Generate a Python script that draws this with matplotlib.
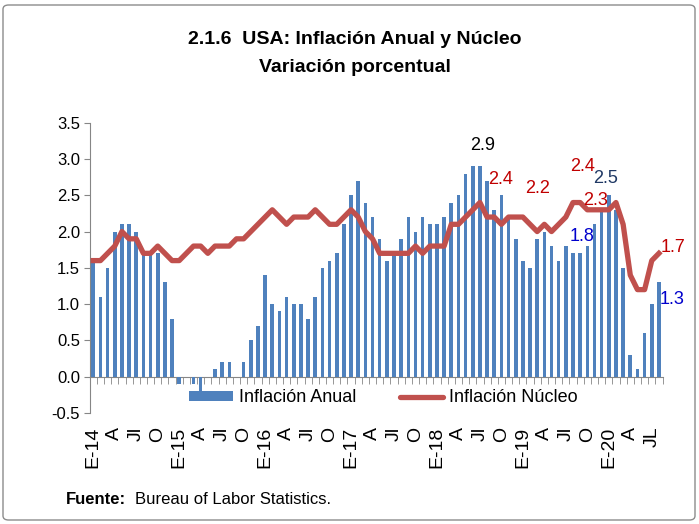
import matplotlib
matplotlib.use("Agg")
import matplotlib.pyplot as plt
from matplotlib.patches import FancyBboxPatch, Patch
from matplotlib.lines import Line2D
import numpy as np

plt.rcParams['font.family'] = ['Liberation Sans', 'DejaVu Sans']

# Monthly data, Jan 2014 - Aug 2020
inflacion_anual = [
    1.6, 1.1, 1.5, 2.0, 2.1, 2.1, 2.0, 1.7, 1.7, 1.7, 1.3, 0.8,      # 2014
    -0.1, 0.0, -0.1, -0.2, 0.0, 0.1, 0.2, 0.2, 0.0, 0.2, 0.5, 0.7,   # 2015
    1.4, 1.0, 0.9, 1.1, 1.0, 1.0, 0.8, 1.1, 1.5, 1.6, 1.7, 2.1,      # 2016
    2.5, 2.7, 2.4, 2.2, 1.9, 1.6, 1.7, 1.9, 2.2, 2.0, 2.2, 2.1,      # 2017
    2.1, 2.2, 2.4, 2.5, 2.8, 2.9, 2.9, 2.7, 2.3, 2.5, 2.2, 1.9,      # 2018
    1.6, 1.5, 1.9, 2.0, 1.8, 1.6, 1.8, 1.7, 1.7, 1.8, 2.1, 2.3,      # 2019
    2.5, 2.3, 1.5, 0.3, 0.1, 0.6, 1.0, 1.3,                          # 2020
]
inflacion_nucleo = [
    1.6, 1.6, 1.7, 1.8, 2.0, 1.9, 1.9, 1.7, 1.7, 1.8, 1.7, 1.6,
    1.6, 1.7, 1.8, 1.8, 1.7, 1.8, 1.8, 1.8, 1.9, 1.9, 2.0, 2.1,
    2.2, 2.3, 2.2, 2.1, 2.2, 2.2, 2.2, 2.3, 2.2, 2.1, 2.1, 2.2,
    2.3, 2.2, 2.0, 1.9, 1.7, 1.7, 1.7, 1.7, 1.7, 1.8, 1.7, 1.8,
    1.8, 1.8, 2.1, 2.1, 2.2, 2.3, 2.4, 2.2, 2.2, 2.1, 2.2, 2.2,
    2.2, 2.1, 2.0, 2.1, 2.0, 2.1, 2.2, 2.4, 2.4, 2.3, 2.3, 2.3,
    2.3, 2.4, 2.1, 1.4, 1.2, 1.2, 1.6, 1.7,
]
year_labels = ['E-14', 'E-15', 'E-16', 'E-17', 'E-18', 'E-19', 'E-20']
quarter_labels = ['A', 'Jl', 'O']
last_label = 'JL'

# annotation texts (value, colour)
annotations = [
    ('2.9', 'black'), ('2.4', '#C00000'), ('2.2', '#C00000'),
    ('2.4', '#C00000'), ('2.5', '#1F3864'), ('2.3', '#C00000'),
    ('1.8', '#0000CC'), ('1.7', '#C00000'), ('1.3', '#0000CC'),
]
ann_pos = [(54.4, 3.18), (56.9, 2.72), (62.0, 2.60), (68.3, 2.89), (71.6, 2.73),
           (70.2, 2.43), (68.3, 1.93), (80.9, 1.78), (80.9, 1.07)]

n = len(inflacion_anual)
x = np.arange(n)

# tick labels every 3 months
tick_labels = []
for i in range(0, n, 3):
    m = i % 12
    if m == 0:
        tick_labels.append(year_labels[i // 12])
    else:
        tick_labels.append(quarter_labels[m // 3 - 1])
tick_labels[-1] = last_label

W, H = 699, 524
fig = plt.figure(figsize=(W / 100, H / 100), dpi=100)

# outer rounded border
border = FancyBboxPatch((3 / W, 4 / H), (W - 7) / W, (H - 9) / H,
                        boxstyle="round,pad=0,rounding_size=0.008",
                        transform=fig.transFigure, fill=False,
                        edgecolor='#8C8C8C', linewidth=1.0)
fig.patches.append(border)

ax = fig.add_axes([89.7 / W, 1 - 413 / H, 572.8 / W, (413 - 122.7) / H])

blue = '#4F81BD'
red = '#C0504D'
ax.bar(x, inflacion_anual, width=0.5, color=blue, zorder=2)
ax.plot(x, inflacion_nucleo, color=red, linewidth=3.8, zorder=3,
        solid_joinstyle='round')

ax.set_xlim(-0.5, n - 0.5)
ax.set_ylim(-0.5, 3.5)
ax.set_yticks(np.arange(-0.5, 3.51, 0.5))
ax.set_yticklabels([f'{v:.1f}' for v in np.arange(-0.5, 3.51, 0.5)], fontsize=12)

ax.spines['top'].set_visible(False)
ax.spines['right'].set_visible(False)
ax.spines['left'].set_color('#868686')
ax.spines['bottom'].set_color('#868686')
ax.spines['bottom'].set_position(('data', 0))
ax.spines['bottom'].set_zorder(1)

ax.set_xticks(np.arange(0, n, 3))
ax.set_xticklabels(tick_labels, rotation=90, fontsize=14)
ax.set_xticks(np.arange(-0.5, n, 1), minor=True)
ax.tick_params(axis='x', which='major', length=0, pad=36)
ax.tick_params(axis='x', which='minor', length=5, color='#868686', direction='out')
ax.tick_params(axis='y', length=4, color='#868686', pad=3)

for (txt, col), (px, py) in zip(annotations, ann_pos):
    ax.text(px, py, txt, color=col, fontsize=13, ha='center', va='center',
            clip_on=False, zorder=5)

handles = [Patch(facecolor=blue, edgecolor='none'),
           Line2D([0], [0], color=red, linewidth=3.8, solid_capstyle='round')]
fig.legend(handles, ['Inflación Anual', 'Inflación Núcleo'], loc='center',
           bbox_to_anchor=(0.549, 1 - 398 / H), ncol=2, frameon=False,
           fontsize=13, handlelength=2.4, handleheight=0.45, columnspacing=2.4,
           handletextpad=0.35)

fig.text(0.508, 1 - 40 / H, '2.1.6  USA: Inflación Anual y Núcleo', ha='center',
         va='center', fontsize=14, fontweight='bold')
fig.text(0.508, 1 - 68 / H, 'Variación porcentual', ha='center', va='center',
         fontsize=14, fontweight='bold')

fig.text(66 / W, 1 - 500 / H, 'Fuente:', ha='left', va='center', fontsize=12,
         fontweight='bold')
fig.text(135 / W, 1 - 500 / H, 'Bureau of Labor Statistics.', ha='left',
         va='center', fontsize=12)

fig.savefig('out.png', dpi=100)
